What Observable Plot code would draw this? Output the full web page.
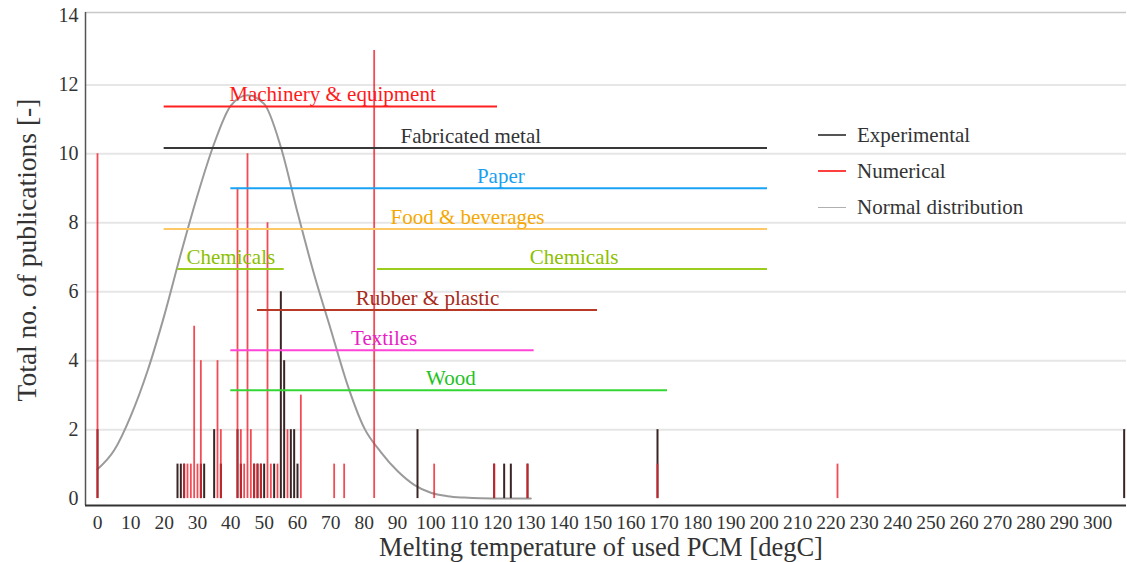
<!DOCTYPE html>
<html>
<head>
<meta charset="utf-8">
<script src="https://cdn.jsdelivr.net/npm/d3@7"></script>
<script src="https://cdn.jsdelivr.net/npm/@observablehq/plot@0.6"></script>
<style>
  html, body { margin: 0; padding: 0; background: #fff; }
  #wrap { position: relative; width: 1127px; height: 562px; font-family: "Liberation Serif", serif; }
  #legend { position: absolute; left: 818px; top: 117px; color: #333; font-size: 21px; }
  #legend .row { display: flex; align-items: center; height: 36px; }
  #legend .sw { width: 28px; height: 0; margin-right: 11px; }
</style>
</head>
<body>
<div id="wrap"><div id="legend"></div></div>
<script>
// ---- Data ----
const xTicks = [0,10,20,30,40,50,60,70,80,90,100,110,120,130,140,150,160,170,180,190,200,210,220,230,240,250,260,270,280,290,300];
const yTicks = [0,2,4,6,8,10,12,14];
const gridLevels = [2,4,6,8,10,12];

// Experimental publications: melting temperature [degC] -> count
const expTemp  = [0, 24, 25, 26, 31, 32, 35, 37, 42, 43, 47, 48, 49, 50, 53, 55, 56, 58, 59, 60, 96, 119, 122, 124, 129, 168, 308];
const expCount = [2, 1,  1,  1,  1,  1,  2,  1,  2,  1,  1,  1,  1,  1,  1,  6,  4,  2,  2,  1,  2,  1,   1,   1,   1,   2,   2];

// Numerical publications
const numTemp  = [0, 26, 27, 28, 29, 30, 31, 36, 37, 42, 43, 44, 45, 46, 47, 48, 49, 51, 52, 54, 57, 61, 71, 74, 83, 101, 119, 129, 168, 222];
const numCount = [10, 1, 1,  1,  5,  1,  4,  4,  2,  9,  2,  1, 10,  2,  1,  1,  1,  8,  1,  1,  2,  3,  1,  1, 13,  1,   1,   1,   1,   1];

// Normal distribution curve
const normTemp = [0, 5, 10, 15, 20, 25, 30, 35, 40, 45, 50, 55, 60, 65, 70, 75, 80, 85, 90, 95, 100, 105, 110, 115, 120, 130];
const normVal  = [0.85, 1.4, 2.4, 3.7, 5.3, 7.1, 8.8, 10.3, 11.4, 11.7, 11.45, 10.2, 8.3, 6.5, 4.9, 3.3, 2.05, 1.35, 0.8, 0.4, 0.17, 0.07, 0.03, 0.01, 0.005, 0];

// Industry temperature ranges
const industries  = ["Machinery & equipment", "Fabricated metal", "Paper", "Food & beverages", "Chemicals", "Chemicals", "Rubber & plastic", "Textiles", "Wood"];
const indStart    = [20, 20, 40, 20, 24, 84, 48, 40, 40];
const indEnd      = [120, 201, 201, 201, 56, 201, 150, 131, 171];
const indLevel    = [11.37, 10.17, 9.0, 7.82, 6.66, 6.66, 5.47, 4.3, 3.14];
const indLabelAt  = [70.5, 112, 121, 111, 40, 143, 99, 86, 106];

const seriesNames = ["Experimental", "Numerical", "Normal distribution"];

// ---- Styles ----
const lineColors = ["#ff2020", "#383838", "#1aa3f5", "#ffc866", "#9ccc1e", "#9ccc1e", "#b83a26", "#ff44d6", "#33d633"];
const textColors = ["#ff1a1a", "#333333", "#1a9ff0", "#f5a800", "#8cbf00", "#8cbf00", "#a82a1a", "#e81fc4", "#1fc21f"];
const legendColors = ["#555555", "#ff4040", "#b0b0b0"];
const xDomain = [-3.6, 308.7];
const yDomain = [-0.2, 14.1];

const expData = expTemp.map((t, i) => ({t, n: expCount[i]}));
const numData = numTemp.map((t, i) => ({t, n: numCount[i]}));
const normData = normTemp.map((t, i) => ({t, v: normVal[i]}));
const indData = industries.map((name, i) => ({name, x1: indStart[i], x2: indEnd[i], y: indLevel[i], lx: indLabelAt[i], lc: lineColors[i], tc: textColors[i]}));

const chart = Plot.plot({
  width: 1127,
  height: 562,
  marginLeft: 85,
  marginRight: 1,
  marginTop: 12,
  marginBottom: 57,
  style: {fontFamily: "Liberation Serif, serif", fontSize: "20px", color: "#333", background: "transparent"},
  x: {domain: xDomain, label: null},
  y: {domain: yDomain, label: null},
  marks: [
    Plot.ruleY(gridLevels, {stroke: "#e6e6e6", strokeWidth: 2}),
    Plot.ruleY([yDomain[1]], {stroke: "#c8c8c8", strokeWidth: 1.5}),
    Plot.line(normData, {x: "t", y: "v", stroke: "#9a9a9a", strokeWidth: 2, curve: "monotone-x"}),
    Plot.ruleX(expData, {x: "t", y1: 0, y2: "n", stroke: "#3a2424", strokeWidth: 2}),
    Plot.ruleX(numData, {x: "t", y1: 0, y2: "n", stroke: "#ee1f2b", strokeWidth: 1.8, strokeOpacity: 0.8}),
    Plot.ruleY(indData, {y: "y", x1: "x1", x2: "x2", stroke: d => d.lc, strokeWidth: 2}),
    Plot.text(indData, {x: "lx", y: "y", text: "name", fill: d => d.tc, dy: -12, fontSize: 21}),
    Plot.ruleX([xDomain[0]], {stroke: "#555", strokeWidth: 1.5}),
    Plot.ruleY([yDomain[0]], {stroke: "#333", strokeWidth: 2}),
    Plot.axisX({ticks: xTicks, tickSize: 0, tickPadding: 10, fontSize: 19.5, label: null, tickFormat: d => String(d)}),
    Plot.axisY({ticks: yTicks, tickSize: 0, tickPadding: 7, fontSize: 20, label: null}),
    Plot.text(["Melting temperature of used PCM [degC]"], {frameAnchor: "bottom", dx: -5, dy: 50, fontSize: 26.5, fill: "#333"}),
    Plot.text(["Total no. of publications [-]"], {frameAnchor: "left", textAnchor: "middle", dx: -58, dy: -9, rotate: -90, fontSize: 27.5, fill: "#333"})
  ]
});

const wrap = document.getElementById("wrap");
wrap.insertBefore(chart, wrap.firstChild);

const legend = document.getElementById("legend");
seriesNames.forEach((name, i) => {
  const row = document.createElement("div");
  row.className = "row";
  const sw = document.createElement("div");
  sw.className = "sw";
  sw.style.borderTop = (i === 2 ? "1.5px" : "2px") + " solid " + legendColors[i];
  const lab = document.createElement("span");
  lab.textContent = name;
  row.appendChild(sw);
  row.appendChild(lab);
  legend.appendChild(row);
});
</script>
</body>
</html>
